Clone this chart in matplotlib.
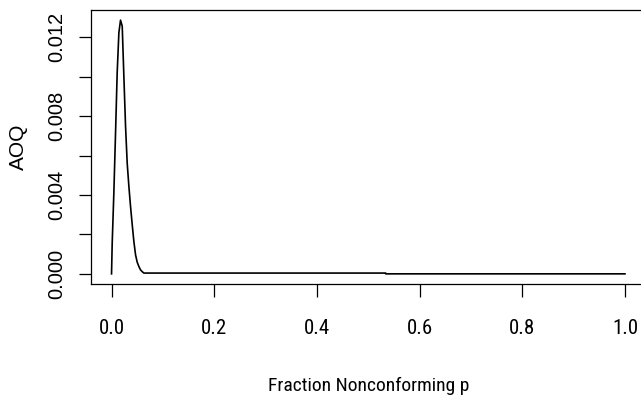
import matplotlib
matplotlib.use("Agg")
import matplotlib.pyplot as plt

# AOQ curve
p_vals = [0.0, 0.0013, 0.0045, 0.0078, 0.0110, 0.0143, 0.0175, 0.0208, 0.0240,
          0.0273, 0.0305, 0.0338, 0.0370, 0.0403, 0.0435, 0.0468, 0.0500,
          0.0533, 0.0565, 0.0598, 0.0630, 0.534, 0.5341, 1.0]
aoq_vals = [0.0, 0.00156, 0.0041, 0.00715, 0.0102, 0.01223, 0.01287, 0.01257,
            0.01003, 0.00748, 0.00562, 0.00443, 0.00342, 0.00249, 0.00164,
            0.00096, 0.00059, 0.00037, 0.0002, 0.00011, 0.00004, 0.00004,
            0.0, 0.0]

x_ticks = [0.0, 0.2, 0.4, 0.6, 0.8, 1.0]
x_labels = ["0.0", "0.2", "0.4", "0.6", "0.8", "1.0"]
y_ticks = [0.000, 0.002, 0.004, 0.006, 0.008, 0.010, 0.012]
y_labels = ["0.000", "", "0.004", "", "0.008", "", "0.012"]

narrow = ["Roboto Condensed", "Archivo Narrow", "Liberation Sans", "DejaVu Sans"]
regular = ["Liberation Sans", "DejaVu Sans"]

fig = plt.figure(figsize=(6.41, 4.01), dpi=100)
ax = fig.add_axes([91 / 641, 117 / 401, 554.5 / 641, 274 / 401])

ax.plot(p_vals, aoq_vals, color="black", lw=1.2)

# R-style 4% padding
ymax = max(aoq_vals)
ax.set_xlim(-0.04, 1.04)
ax.set_ylim(-0.04 * ymax, 1.04 * ymax)

ax.set_xticks(x_ticks)
ax.set_xticklabels(x_labels, family=narrow, fontsize=15)
ax.set_yticks(y_ticks)
ax.set_yticklabels(y_labels, family=regular, fontsize=14.5,
                   rotation=90, va="center")

ax.tick_params(axis="both", direction="out", length=9, width=0.9, color="black")
ax.tick_params(axis="x", pad=16)
ax.tick_params(axis="y", pad=9)
for s in ax.spines.values():
    s.set_linewidth(0.9)

ax.set_xlabel("Fraction Nonconforming p", family=narrow, fontsize=14)
ax.xaxis.set_label_coords(0.5, -0.34)
ax.set_ylabel("AOQ", family=regular, fontsize=15)
ax.yaxis.set_label_coords(-0.113, 0.5)

fig.savefig("out.png", dpi=100)
